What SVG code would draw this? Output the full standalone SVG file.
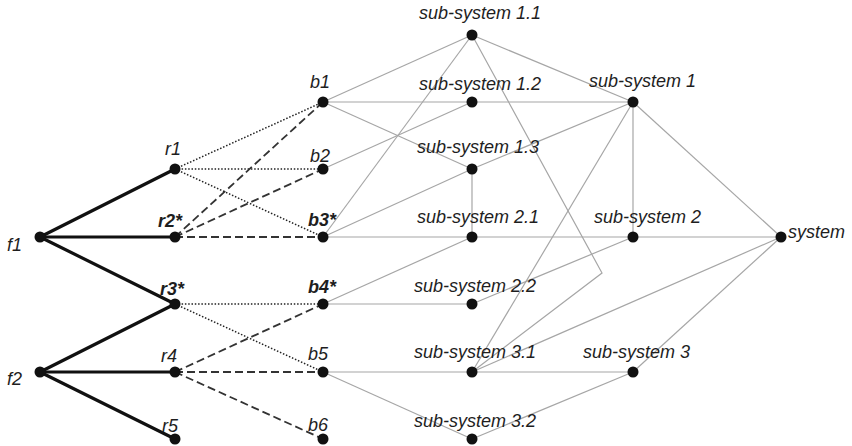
<svg xmlns="http://www.w3.org/2000/svg" width="852" height="446" viewBox="0 0 852 446">
<style>
text{font-family:"Liberation Sans",Arial,sans-serif;font-style:italic;font-size:18px;fill:#1e1e1e}
.bd{font-weight:bold}
.thick{stroke:#111;stroke-width:3.2;fill:none;stroke-linecap:round}
.dot{stroke:#222;stroke-width:1.5;stroke-dasharray:1.5 1.8;fill:none}
.dash{stroke:#333;stroke-width:1.8;stroke-dasharray:8 4;fill:none}
.gray{stroke:#a6a6a6;stroke-width:1.2;fill:none}
circle{fill:#111}
</style>
<rect width="852" height="446" fill="#fff"/>
<g id="connectors">
  <g class="gray">
    <line x1="323" y1="102" x2="472" y2="35"/>
    <line x1="323" y1="102" x2="633" y2="102"/>
    <line x1="323" y1="102" x2="472" y2="169"/>
    <line x1="323" y1="169" x2="472" y2="102"/>
    <line x1="323" y1="237" x2="472" y2="35"/>
    <line x1="323" y1="237" x2="472" y2="169"/>
    <line x1="323" y1="237" x2="781" y2="237"/>
    <line x1="472" y1="169" x2="472" y2="237"/>
    <line x1="323" y1="304" x2="472" y2="237"/>
    <line x1="323" y1="304" x2="472" y2="304"/>
    <line x1="472" y1="304" x2="633" y2="237"/>
    <line x1="472" y1="35" x2="633" y2="102"/>
    <polyline points="472,35 602,273 472,372"/>
    <line x1="472" y1="169" x2="633" y2="102"/>
    <line x1="633" y1="102" x2="633" y2="237"/>
    <line x1="633" y1="102" x2="781" y2="237"/>
    <line x1="633" y1="102" x2="472" y2="372"/>
    <line x1="323" y1="372" x2="633" y2="372"/>
    <line x1="323" y1="372" x2="472" y2="439"/>
    <line x1="472" y1="439" x2="633" y2="372"/>
    <line x1="472" y1="372" x2="781" y2="237"/>
    <line x1="633" y1="372" x2="781" y2="237"/>
  </g>
  <g class="thick">
    <line x1="40" y1="237" x2="175" y2="169"/>
    <line x1="40" y1="237" x2="175" y2="237"/>
    <line x1="40" y1="237" x2="175" y2="304"/>
    <line x1="40" y1="372" x2="175" y2="304"/>
    <line x1="40" y1="372" x2="175" y2="372"/>
    <line x1="40" y1="372" x2="175" y2="439"/>
  </g>
  <g class="dot">
    <line x1="175" y1="169" x2="323" y2="102"/>
    <line x1="175" y1="169" x2="323" y2="169"/>
    <line x1="175" y1="169" x2="323" y2="237"/>
    <line x1="175" y1="304" x2="323" y2="304"/>
    <line x1="175" y1="304" x2="323" y2="372"/>
  </g>
  <g class="dash">
    <line x1="175" y1="237" x2="323" y2="102"/>
    <line x1="175" y1="237" x2="323" y2="169"/>
    <line x1="175" y1="237" x2="323" y2="237"/>
    <line x1="175" y1="372" x2="323" y2="304"/>
    <line x1="175" y1="372" x2="323" y2="372"/>
    <line x1="175" y1="372" x2="323" y2="439"/>
  </g>
</g>
<g id="f1"><circle cx="40" cy="237" r="5.5"/><text x="7" y="251">f1</text></g>
<g id="f2"><circle cx="40" cy="372" r="5.5"/><text x="7" y="385">f2</text></g>
<g id="r1"><circle cx="175" cy="169" r="5.5"/><text x="165" y="155">r1</text></g>
<g id="r2"><circle cx="175" cy="237" r="5.5"/><text class="bd" x="158" y="227">r2*</text></g>
<g id="r3"><circle cx="175" cy="304" r="5.5"/><text class="bd" x="160" y="295">r3*</text></g>
<g id="r4"><circle cx="175" cy="372" r="5.5"/><text x="161" y="362">r4</text></g>
<g id="r5"><circle cx="175" cy="439" r="5.5"/><text x="162" y="432">r5</text></g>
<g id="b1"><circle cx="323" cy="102" r="5.5"/><text x="310" y="88">b1</text></g>
<g id="b2"><circle cx="323" cy="169" r="5.5"/><text x="310" y="162">b2</text></g>
<g id="b3"><circle cx="323" cy="237" r="5.5"/><text class="bd" x="308" y="226">b3*</text></g>
<g id="b4"><circle cx="323" cy="304" r="5.5"/><text class="bd" x="308" y="293">b4*</text></g>
<g id="b5"><circle cx="323" cy="372" r="5.5"/><text x="308" y="360">b5</text></g>
<g id="b6"><circle cx="323" cy="439" r="5.5"/><text x="308" y="431">b6</text></g>
<g id="ss11"><circle cx="472" cy="35" r="5.5"/><text x="419" y="19">sub-system 1.1</text></g>
<g id="ss12"><circle cx="472" cy="102" r="5.5"/><text x="419" y="90">sub-system 1.2</text></g>
<g id="ss13"><circle cx="472" cy="169" r="5.5"/><text x="417" y="153">sub-system 1.3</text></g>
<g id="ss21"><circle cx="472" cy="237" r="5.5"/><text x="417" y="223">sub-system 2.1</text></g>
<g id="ss22"><circle cx="472" cy="304" r="5.5"/><text x="414" y="292">sub-system 2.2</text></g>
<g id="ss31"><circle cx="472" cy="372" r="5.5"/><text x="414" y="358">sub-system 3.1</text></g>
<g id="ss32"><circle cx="472" cy="439" r="5.5"/><text x="414" y="427">sub-system 3.2</text></g>
<g id="ss1"><circle cx="633" cy="102" r="5.5"/><text x="589" y="87">sub-system 1</text></g>
<g id="ss2"><circle cx="633" cy="237" r="5.5"/><text x="594" y="223">sub-system 2</text></g>
<g id="ss3"><circle cx="633" cy="372" r="5.5"/><text x="583" y="358">sub-system 3</text></g>
<g id="system"><circle cx="781" cy="237" r="5.5"/><text x="788" y="238">system</text></g>
</svg>
